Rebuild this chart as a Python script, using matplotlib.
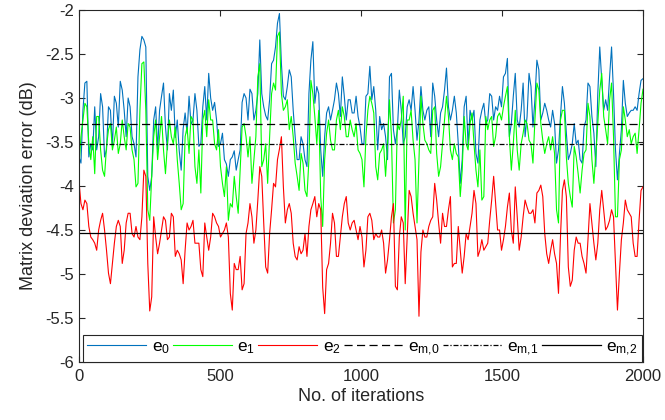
import numpy as np
import matplotlib
matplotlib.use("Agg")
import matplotlib.pyplot as plt

plt.rcParams['font.family'] = ['Liberation Sans', 'DejaVu Sans']
plt.rcParams['mathtext.default'] = 'regular'
plt.rcParams['axes.unicode_minus'] = False

# ---- data (dB) ----
e0 = [-3.67, -3.74, -3.14, -2.83, -2.81, -3.67, -3.52, -3.59, -3.10, -3.59, -3.44, -2.95,
      -3.10, -3.67, -3.59, -3.10, -3.14, -3.55, -2.98, -3.06, -3.33, -2.81, -2.91, -3.14,
      -3.44, -3.00, -3.10, -3.44, -3.52, -3.67, -2.76, -2.45, -2.30, -2.34, -2.42, -3.89,
      -4.05, -3.89, -3.25, -3.10, -3.59, -3.14, -2.98, -2.83, -3.33, -3.59, -2.95, -3.14,
      -2.91, -3.45, -3.25, -3.60, -3.82, -3.35, -3.17, -3.40, -2.98, -3.30, -3.25, -2.95,
      -3.14, -3.55, -3.52, -3.10, -2.87, -3.25, -2.72, -3.00, -3.14, -3.05, -3.25, -3.55,
      -3.52, -3.40, -3.70, -3.75, -3.89, -3.70, -3.67, -3.60, -3.82, -3.70, -3.59, -3.05,
      -2.95, -3.00, -3.25, -2.90, -2.95, -3.25, -3.14, -2.95, -2.34, -2.95, -3.10, -3.20,
      -3.25, -3.02, -2.61, -2.57, -2.42, -2.15, -2.04, -2.61, -2.98, -3.02, -2.87, -2.68,
      -2.76, -3.14, -3.44, -3.70, -3.70, -3.44, -3.52, -3.70, -3.78, -2.95, -2.57, -2.36,
      -3.06, -2.87, -2.95, -3.59, -3.89, -3.44, -3.17, -3.10, -3.25, -3.14, -3.02, -2.83,
      -2.95, -3.21, -2.76, -2.98, -3.25, -3.02, -3.02, -3.17, -3.17, -2.98, -3.21, -3.33,
      -3.52, -3.52, -2.98, -2.95, -2.64, -3.02, -2.87, -3.14, -3.59, -3.21, -3.36, -3.29,
      -3.44, -3.70, -2.76, -2.72, -3.36, -3.52, -3.36, -2.91, -3.14, -3.52, -3.44, -3.10,
      -3.02, -3.14, -2.87, -3.14, -3.48, -3.25, -2.87, -3.14, -3.25, -3.14, -3.10, -3.44,
      -2.83, -2.98, -3.25, -3.44, -3.17, -3.10, -2.91, -2.66, -3.10, -3.25, -3.14, -2.98,
      -3.17, -3.52, -3.97, -3.70, -3.10, -2.98, -3.55, -3.14, -3.25, -3.14, -3.63, -3.74,
      -3.25, -3.14, -3.06, -3.29, -3.25, -2.95, -2.98, -3.25, -3.10, -3.14, -2.98, -3.10,
      -2.76, -2.72, -2.55, -3.44, -3.29, -2.98, -2.72, -3.25, -3.33, -3.14, -2.83, -3.44,
      -3.21, -2.72, -2.87, -3.33, -3.02, -2.57, -2.68, -3.25, -3.17, -3.06, -3.14, -3.25,
      -3.33, -3.14, -3.29, -3.74, -3.59, -3.21, -2.87, -3.06, -3.40, -3.70, -3.63, -3.52,
      -3.29, -3.52, -3.48, -3.70, -3.74, -3.33, -3.25, -2.83, -2.87, -3.21, -3.40, -3.78,
      -2.95, -2.42, -2.80, -3.14, -3.02, -3.14, -2.76, -2.42, -2.95, -3.59, -3.93, -3.63,
      -3.36, -2.80, -3.06, -3.21, -3.17, -3.14, -3.14, -3.10, -3.14, -2.95, -2.80, -2.78]

e1 = [-3.78, -3.44, -3.25, -3.06, -3.10, -3.52, -3.70, -3.44, -3.86, -3.21, -3.21, -3.59,
      -3.82, -3.89, -3.55, -3.36, -3.29, -3.59, -3.48, -3.33, -3.63, -3.52, -3.25, -3.44,
      -3.59, -3.29, -3.33, -3.59, -3.70, -4.01, -3.97, -3.14, -2.61, -2.59, -3.14, -4.27,
      -4.39, -3.89, -3.44, -3.25, -3.70, -3.44, -3.21, -3.59, -3.86, -3.52, -3.25, -3.44,
      -3.52, -3.33, -3.70, -3.97, -4.27, -4.20, -3.44, -3.33, -3.63, -3.21, -3.25, -3.78,
      -3.97, -3.59, -4.08, -3.25, -3.14, -3.44, -3.02, -3.25, -3.25, -3.52, -3.59, -3.36,
      -3.78, -3.97, -4.12, -3.78, -4.39, -4.20, -4.24, -3.89, -4.12, -4.31, -3.82, -3.33,
      -3.29, -3.44, -3.67, -3.44, -3.97, -3.70, -3.44, -2.76, -2.61, -3.78, -3.70, -3.52,
      -3.97, -3.44, -2.95, -2.83, -2.91, -2.30, -2.25, -2.95, -3.14, -3.10, -3.02, -3.36,
      -3.21, -3.44, -3.74, -3.89, -4.05, -3.63, -3.74, -4.05, -4.12, -3.70, -2.80, -2.95,
      -3.21, -3.52, -3.14, -4.12, -4.46, -3.70, -3.40, -3.25, -3.48, -3.59, -3.59, -3.25,
      -3.14, -3.36, -3.10, -3.21, -3.44, -3.44, -3.25, -3.36, -3.44, -3.29, -3.59, -3.63,
      -3.70, -4.01, -3.44, -3.14, -2.98, -3.06, -3.17, -3.78, -3.93, -3.63, -3.59, -3.52,
      -3.89, -3.52, -3.02, -3.44, -4.42, -4.27, -3.29, -3.36, -3.25, -2.98, -4.50, -3.25,
      -3.25, -3.14, -3.48, -3.70, -4.42, -3.70, -2.98, -3.29, -3.48, -3.52, -3.59, -3.63,
      -3.14, -3.10, -3.63, -3.89, -3.78, -3.52, -3.25, -2.98, -3.21, -3.59, -3.70, -3.52,
      -3.63, -3.67, -4.12, -3.82, -3.21, -3.52, -3.59, -3.29, -3.17, -3.52, -3.82, -4.01,
      -3.59, -4.16, -4.12, -3.21, -3.36, -3.25, -3.21, -3.55, -3.44, -3.21, -3.17, -3.25,
      -3.10, -2.98, -2.87, -3.44, -3.82, -3.52, -3.14, -3.59, -3.82, -3.52, -3.40, -3.25,
      -3.29, -3.48, -3.52, -3.74, -3.25, -2.83, -2.91, -3.29, -3.48, -3.63, -3.52, -3.44,
      -3.59, -3.44, -3.63, -4.27, -4.42, -3.25, -3.14, -3.14, -3.67, -3.97, -4.12, -4.24,
      -3.55, -3.67, -3.86, -4.08, -3.82, -3.63, -3.59, -3.06, -3.21, -3.70, -3.97, -3.63,
      -3.29, -2.91, -2.72, -3.21, -3.36, -3.52, -3.02, -2.83, -3.44, -4.35, -4.35, -3.70,
      -3.59, -3.10, -3.25, -3.44, -3.36, -3.52, -3.44, -3.40, -3.63, -3.36, -3.06, -2.90]

e2 = [-3.95, -4.20, -4.27, -4.16, -4.20, -4.46, -4.58, -4.61, -4.65, -4.73, -4.50, -4.39,
      -4.31, -4.50, -4.73, -4.99, -5.11, -4.88, -4.65, -4.46, -4.39, -4.46, -4.88, -4.73,
      -4.42, -4.31, -4.31, -4.54, -4.58, -4.46, -4.58, -4.61, -4.35, -3.82, -3.89, -4.88,
      -5.42, -5.26, -4.35, -4.58, -4.77, -4.65, -4.50, -4.35, -4.39, -4.61, -4.58, -4.31,
      -4.35, -4.80, -4.73, -4.77, -4.84, -5.11, -4.73, -4.42, -4.50, -4.46, -4.39, -4.65,
      -4.65, -4.65, -4.95, -5.03, -4.42, -4.58, -4.73, -4.58, -4.31, -4.35, -4.42, -4.46,
      -4.58, -4.54, -4.50, -4.42, -4.58, -5.22, -5.41, -4.88, -4.95, -4.95, -4.80, -5.18,
      -5.11, -4.54, -4.42, -4.20, -4.35, -4.65, -4.50, -4.16, -3.78, -3.89, -4.42, -4.92,
      -4.99, -4.54, -4.27, -3.97, -4.01, -3.70, -3.58, -3.44, -4.01, -4.42, -4.27, -4.20,
      -4.31, -4.65, -4.80, -4.84, -4.69, -4.77, -4.73, -4.54, -4.80, -4.46, -4.27, -4.20,
      -4.12, -4.35, -4.20, -4.27, -5.15, -5.45, -4.95, -4.88, -4.65, -4.31, -4.42, -4.80,
      -4.80, -4.58, -4.35, -4.20, -4.12, -4.42, -4.50, -4.42, -4.39, -4.50, -4.61, -4.46,
      -4.58, -4.92, -4.73, -4.35, -4.31, -4.39, -4.61, -4.54, -4.58, -4.58, -4.50, -4.65,
      -4.99, -4.84, -4.61, -4.35, -4.20, -5.14, -5.18, -4.58, -4.35, -4.42, -5.11, -4.58,
      -4.05, -4.12, -4.31, -4.46, -4.61, -5.48, -4.75, -4.50, -4.58, -4.58, -4.46, -4.39,
      -4.35, -3.97, -4.16, -4.42, -4.65, -4.31, -4.46, -4.46, -4.27, -4.12, -4.92, -4.88,
      -4.88, -4.46, -4.73, -4.99, -4.80, -4.54, -4.61, -4.46, -4.31, -4.05, -4.20, -4.80,
      -4.73, -4.61, -4.73, -4.69, -4.65, -4.39, -4.16, -3.89, -4.20, -4.50, -4.50, -4.73,
      -4.61, -4.46, -4.24, -4.08, -4.50, -4.65, -4.01, -4.35, -4.73, -4.58, -4.35, -4.16,
      -4.24, -4.31, -4.31, -4.27, -4.42, -4.08, -4.05, -3.99, -4.12, -4.54, -4.77, -4.88,
      -4.73, -4.61, -4.77, -4.88, -5.22, -4.58, -4.05, -3.93, -4.12, -4.92, -5.14, -5.07,
      -4.73, -4.58, -4.65, -4.65, -4.80, -4.88, -4.99, -4.61, -4.20, -4.42, -4.65, -4.84,
      -4.65, -4.27, -4.05, -4.27, -4.50, -4.46, -4.39, -4.27, -4.35, -4.88, -5.41, -4.99,
      -4.61, -4.42, -4.16, -4.27, -4.31, -4.35, -4.65, -4.80, -4.80, -4.39, -4.05, -4.01]

em0 = -3.30
em1 = -3.52
em2 = -4.53

n_iter = 2000
iters = np.linspace(0, n_iter, len(e0))

xticks = [0, 500, 1000, 1500, 2000]
yticks = [-6, -5.5, -5, -4.5, -4, -3.5, -3, -2.5, -2]
ytick_labels = ['-6', '-5.5', '-5', '-4.5', '-4', '-3.5', '-3', '-2.5', '-2']

# ---- figure ----
fig = plt.figure(figsize=(6.65, 4.2), dpi=100)
ax = fig.add_axes([79 / 665, 1 - 362 / 420, 564 / 665, 352 / 420])

c0 = '#0072BD'
c1 = '#00FF00'
c2 = '#FF0000'
lw = 0.8
ax.plot(iters, e0, color=c0, lw=lw, label='$e_0$')
ax.plot(iters, e1, color=c1, lw=lw, label='$e_1$')
ax.plot(iters, e2, color=c2, lw=lw, label='$e_2$')
ax.axhline(em0, color='black', lw=0.9, dashes=(6.5, 3.5), label='$e_{m{,}0}$')
ax.axhline(em1, color='black', lw=0.9, dashes=(4, 1.5, 1, 1.5), label='$e_{m{,}1}$')
ax.axhline(em2, color='black', lw=0.9, label='$e_{m{,}2}$')

ax.set_xlim(0, n_iter)
ax.set_ylim(-6, -2)
ax.set_xticks(xticks)
ax.set_xticklabels([str(t) for t in xticks])
ax.set_yticks(yticks)
ax.set_yticklabels(ytick_labels)

axcol = '#262626'
for s in ax.spines.values():
    s.set_color(axcol)
    s.set_linewidth(0.8)
ax.tick_params(direction='in', top=True, right=True, length=4, width=0.8,
               color=axcol, labelcolor=axcol, labelsize=12)
ax.tick_params(axis='x', pad=5)

ax.set_xlabel('No. of iterations', fontsize=13, color=axcol, labelpad=3)
ax.set_ylabel('Matrix deviation error (dB)', fontsize=13, color=axcol, labelpad=6)

leg = ax.legend(loc='lower left', bbox_to_anchor=(0.007, 0.0, 0.991, 0.097),
                mode='expand', ncol=6, fontsize=12.5, handlelength=3.4,
                handletextpad=0.3, columnspacing=0.5, borderaxespad=0.0,
                fancybox=False, framealpha=1, edgecolor=axcol, borderpad=0.25)
leg.get_frame().set_linewidth(0.8)

fig.savefig('out.png', dpi=100)
